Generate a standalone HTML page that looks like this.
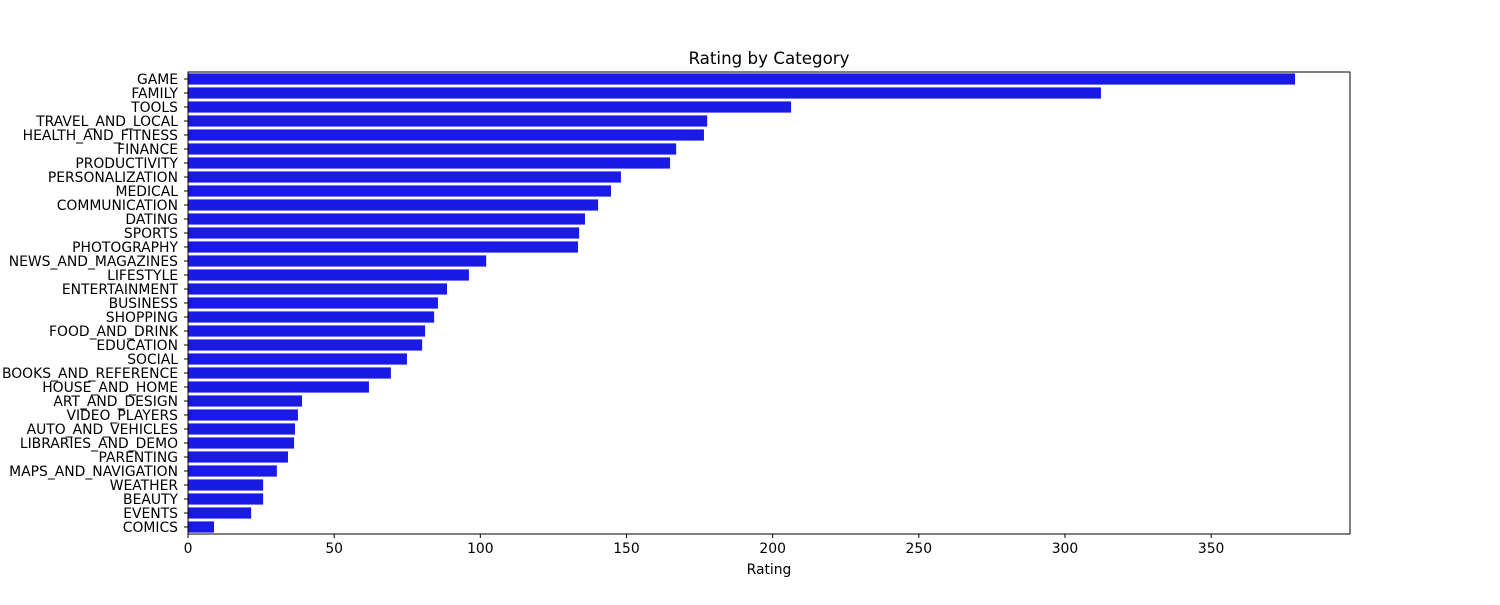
<!DOCTYPE html>
<html><head><meta charset="utf-8"><style>
body{margin:0;background:#fff;}
text{font-family:"DejaVu Sans","Liberation Sans",sans-serif;}
</style></head><body>
<svg id="chart" width="1500" height="600"></svg>
<script>
const categories=["GAME","FAMILY","TOOLS","TRAVEL_AND_LOCAL","HEALTH_AND_FITNESS","FINANCE","PRODUCTIVITY","PERSONALIZATION","MEDICAL","COMMUNICATION","DATING","SPORTS","PHOTOGRAPHY","NEWS_AND_MAGAZINES","LIFESTYLE","ENTERTAINMENT","BUSINESS","SHOPPING","FOOD_AND_DRINK","EDUCATION","SOCIAL","BOOKS_AND_REFERENCE","HOUSE_AND_HOME","ART_AND_DESIGN","VIDEO_PLAYERS","AUTO_AND_VEHICLES","LIBRARIES_AND_DEMO","PARENTING","MAPS_AND_NAVIGATION","WEATHER","BEAUTY","EVENTS","COMICS"];
const ratings=[378.7,312.3,206.3,177.6,176.5,167,164.9,148.1,144.7,140.3,135.8,133.8,133.4,102,96.1,88.6,85.5,84.2,81.1,80.1,74.9,69.4,61.9,39,37.6,36.6,36.3,34.2,30.4,25.7,25.7,21.6,8.9];
const xTicks=[0,50,100,150,200,250,300,350];
const NS="http://www.w3.org/2000/svg";
const svg=document.getElementById('chart');
const L=188,R=1350,T=72,B=534,xMax=397.5;
const x=v=>L+v/xMax*(R-L);
const band=(B-T)/categories.length;
const y=i=>T+i*band;
function mk(tag,attrs,txt){const e=document.createElementNS(NS,tag);for(const k in attrs)e.setAttribute(k,attrs[k]);if(txt!==undefined)e.textContent=txt;svg.appendChild(e);return e;}
ratings.forEach((v,i)=>{
  const r=mk('rect',{x:L,y:y(i)+band*0.1,width:x(v)-L,height:band*0.8,fill:'#1a1ae5'});
  
  
  const t=mk('text',{x:L-10,y:y(i)+band/2+5,'text-anchor':'end','font-size':'13.9'},categories[i]);
  
  
  mk('line',{x1:L-4,x2:L,y1:y(i)+band/2,y2:y(i)+band/2,stroke:'#000','stroke-width':1});
});
xTicks.forEach(v=>{
  mk('line',{x1:x(v),x2:x(v),y1:B,y2:B+4,stroke:'#000','stroke-width':1});
  const t=mk('text',{x:x(v),y:B+19,'text-anchor':'middle','font-size':'13.9'},v);
  
  
});
const f=mk('rect',{x:L,y:T,width:R-L,height:B-T,fill:'none',stroke:'#000','stroke-width':1});


const xt=mk('text',{x:(L+R)/2,y:574,'text-anchor':'middle','font-size':'13.9'},'Rating');


const tt=mk('text',{x:(L+R)/2,y:64,'text-anchor':'middle','font-size':'16.7'},'Rating by Category');


</script>
</body></html>
